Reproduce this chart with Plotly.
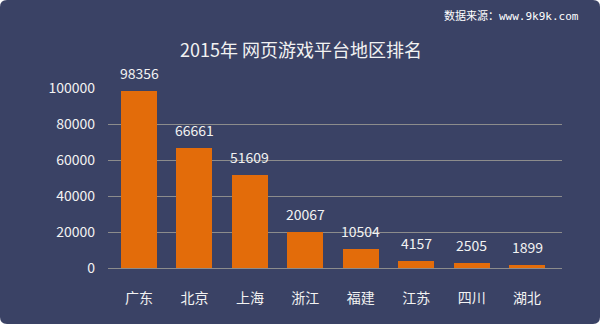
import plotly.graph_objects as go

# 2015 web-game platform counts by region
regions = ["广东", "北京", "上海", "浙江", "福建", "江苏", "四川", "湖北"]
counts = [98356, 66661, 51609, 20067, 10504, 4157, 2505, 1899]
y_ticks = [0, 20000, 40000, 60000, 80000, 100000]

W, H = 600, 324
ML, MR, MT, MB = 108, 38, 88, 56
panel = "#3a4265"
bar_color = "#e36c0a"
text_color = "#f2f2f2"
grid_color = "#8c8c8c"
font_cjk = "Noto Sans CJK SC, Noto Sans, sans-serif"

fig = go.Figure()
fig.add_trace(go.Bar(
    x=list(range(len(regions))),
    y=counts,
    width=0.65,
    marker=dict(color=bar_color, line=dict(width=0)),
    hoverinfo="skip",
))

# value labels above each bar
for i, v in enumerate(counts):
    fig.add_annotation(
        x=i, y=v, xref="x", yref="y",
        text=str(v), showarrow=False,
        yanchor="bottom", yshift=6,
        font=dict(family=font_cjk, size=14, color=text_color),
    )

# rounded navy panel behind everything
pw = W - ML - MR
ph = H - MT - MB
def px_x(p):
    return (p - ML) / pw
def px_y(p):
    return (H - MB - p) / ph
r = 7
x0, x1, y0, y1 = 0, W, 0, H
path = (
    f"M {px_x(x0 + r)} {px_y(y0)} L {px_x(x1 - r)} {px_y(y0)} "
    f"Q {px_x(x1)} {px_y(y0)} {px_x(x1)} {px_y(y0 + r)} "
    f"L {px_x(x1)} {px_y(y1 - r)} Q {px_x(x1)} {px_y(y1)} {px_x(x1 - r)} {px_y(y1)} "
    f"L {px_x(x0 + r)} {px_y(y1)} Q {px_x(x0)} {px_y(y1)} {px_x(x0)} {px_y(y1 - r)} "
    f"L {px_x(x0)} {px_y(y0 + r)} Q {px_x(x0)} {px_y(y0)} {px_x(x0 + r)} {px_y(y0)} Z"
)
fig.add_shape(type="path", path=path, xref="paper", yref="paper",
              fillcolor=panel, line=dict(width=0), layer="below")

# title
fig.add_annotation(
    x=px_x(301), y=px_y(49), xref="paper", yref="paper",
    text="2015年 网页游戏平台地区排名", showarrow=False,
    xanchor="center", yanchor="middle",
    font=dict(family=font_cjk, size=18, color=text_color),
)
# source note
fig.add_annotation(
    x=px_x(581), y=px_y(16), xref="paper", yref="paper",
    text="数据来源：www.9k9k.com", showarrow=False,
    xanchor="right", yanchor="middle",
    font=dict(family="DejaVu Sans Mono, Noto Sans CJK SC, monospace", size=11, color="#ffffff"),
)

fig.update_layout(
    width=W, height=H,
    margin=dict(l=ML, r=MR, t=MT, b=MB, pad=0),
    paper_bgcolor="#ffffff",
    plot_bgcolor="rgba(0,0,0,0)",
    showlegend=False,
    bargap=0,
    xaxis=dict(
        range=[-0.56, 7.63],
        tickmode="array",
        tickvals=list(range(len(regions))),
        ticktext=regions,
        showgrid=False, zeroline=False, showline=False,
        ticks="", ticklabelstandoff=20,
        tickfont=dict(family=font_cjk, size=14, color=text_color),
        fixedrange=True,
    ),
    yaxis=dict(
        range=[0, 100000],
        tickmode="array",
        tickvals=y_ticks,
        ticktext=[str(t) for t in y_ticks],
        showgrid=True, gridcolor=grid_color, gridwidth=1,
        zeroline=True, zerolinecolor=grid_color, zerolinewidth=1,
        showline=False, ticks="", ticklabelstandoff=12,
        tickfont=dict(family=font_cjk, size=14, color=text_color),
        fixedrange=True,
    ),
)

fig.write_html("out.html")
